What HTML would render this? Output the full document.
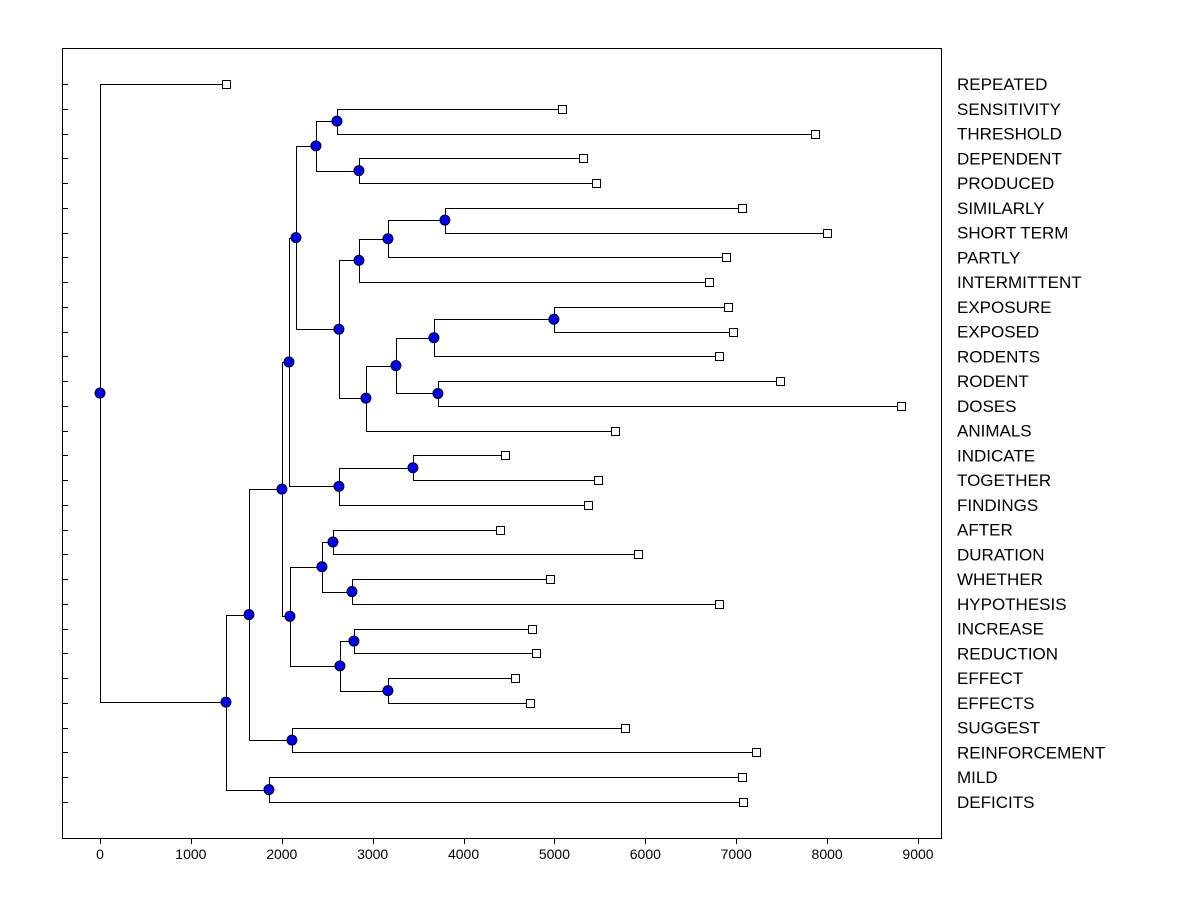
<!DOCTYPE html>
<html><head><meta charset="utf-8"><style>
html,body{margin:0;padding:0;background:#fff;}
svg{display:block;font-family:"Liberation Sans",Arial,sans-serif;}
</style></head><body>
<svg id="chart" width="1200" height="900" xmlns="http://www.w3.org/2000/svg"></svg>
<script>
const leafNames=["REPEATED","SENSITIVITY","THRESHOLD","DEPENDENT","PRODUCED","SIMILARLY","SHORT TERM","PARTLY","INTERMITTENT","EXPOSURE","EXPOSED","RODENTS","RODENT","DOSES","ANIMALS","INDICATE","TOGETHER","FINDINGS","AFTER","DURATION","WHETHER","HYPOTHESIS","INCREASE","REDUCTION","EFFECT","EFFECTS","SUGGEST","REINFORCEMENT","MILD","DEFICITS"];
const leafValues=[1386,5083,7866,5313,5457,7063,7998,6887,6700,6909,6964,6810,7481,8812,5666,4455,5479,5369,4400,5919,4950,6810,4752,4796,4565,4730,5776,7217,7063,7074];
// merges: [childA, childB, height]; leaves are 0..29, merged nodes are 30+
const mergeA=[1,3,30,5,33,34,9,36,12,37,39,35,32,15,43,18,20,45,22,24,48,47,42,52,26,53,28,55,0];
const mergeB=[2,4,31,6,7,8,10,11,13,38,14,40,41,16,17,19,21,46,23,25,49,50,44,51,27,54,29,56,57];
const mergeH=[2607,2849,2376,3795,3168,2849,4994,3674,3718,3256,2926,2629,2156,3443,2629,2563,2772,2442,2794,3168,2640,2090,2079,2002,2112,1639,1859,1386,0];
const xTicks=[0,1000,2000,3000,4000,5000,6000,7000,8000,9000];
</script>
<script>
const NS="http://www.w3.org/2000/svg";
const svg=document.getElementById('chart');
const X0=62,X1=941,Y0=48,Y1=838;
const xs=v=>100+v*(818/9000);
const yRow=i=>84+i*(718/(leafNames.length-1));
function mk(tag,attrs,parent){const e=document.createElementNS(NS,tag);for(const k in attrs)e.setAttribute(k,attrs[k]);(parent||svg).appendChild(e);return e;}
const frame=mk('rect',{x:X0+0.5,y:Y0+0.5,width:X1-X0,height:Y1-Y0,fill:'#fff',stroke:'#000','stroke-width':1});


leafNames.forEach((n,i)=>{const y=Math.round(yRow(i))+0.5;
 const t=mk('line',{x1:X0,x2:X0+6,y1:y,y2:y,stroke:'#000'});
 
 
 const lb=mk('text',{x:957,y:yRow(i)+6,'font-size':17,fill:'#000'});lb.textContent=n;
 
 
});
xTicks.forEach(v=>{const x=Math.round(xs(v))+0.5;
 const t=mk('line',{x1:x,x2:x,y1:Y1,y2:Y1+6,stroke:'#000'});
 
 
 const lb=mk('text',{x:xs(v),y:Y1+21,'font-size':14,'text-anchor':'middle'});lb.textContent=v;
 
 
});
const nodeX=leafValues.map(v=>xs(v)), nodeY=leafNames.map((n,i)=>yRow(i));
const gLines=mk('g',{stroke:'#000','stroke-width':1,fill:'none'});


const circles=[];
mergeH.forEach((h,k)=>{const a=mergeA[k],b=mergeB[k];const x=xs(h);const y=(nodeY[a]+nodeY[b])/2;
 const xa=Math.round(x)+0.5;
 const p=mk('path',{d:`M${nodeX[a]} ${Math.round(nodeY[a])+0.5}H${xa}V${Math.round(nodeY[b])+0.5}H${nodeX[b]}`},gLines);
 
 
 nodeX.push(x);nodeY.push(y);circles.push([x,y]);
});
leafNames.forEach((n,i)=>{const r=mk('rect',{x:Math.round(nodeX[i])-3.5,y:Math.round(nodeY[i])-3.5,width:8,height:8,fill:'#fff',stroke:'#000'});
 
 });
circles.forEach(([x,y])=>{const c=mk('circle',{cx:x,cy:y,r:5,fill:'#0000ff',stroke:'#000'});
 
 });
</script>
</body></html>
